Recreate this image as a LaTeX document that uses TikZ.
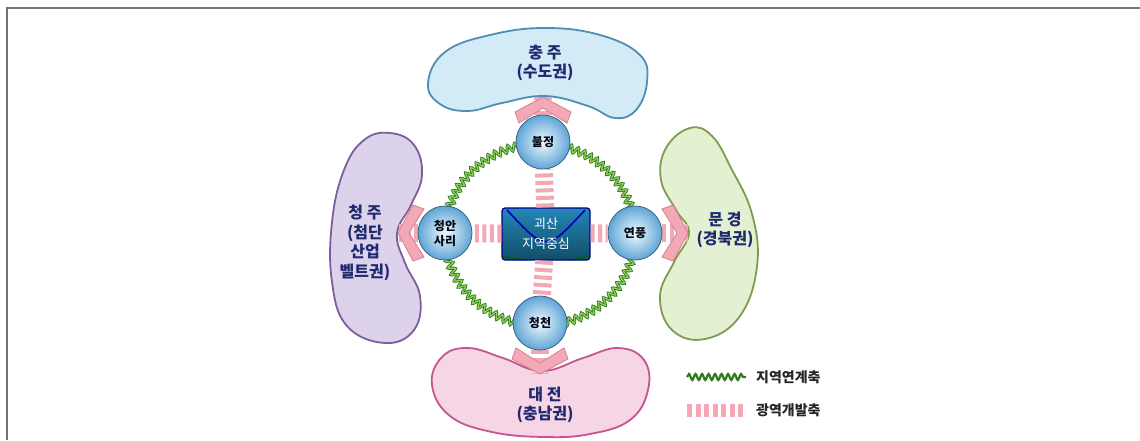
\documentclass[tikz,border=0pt]{standalone}
\usepackage{fontspec}
\newfontfamily\kr{Noto Sans CJK KR}
\usetikzlibrary{decorations.pathmorphing}
\definecolor{navy}{HTML}{1F2A6E}
\definecolor{topF}{HTML}{D3EAF7}\definecolor{topD}{HTML}{4F8FB3}
\definecolor{lefF}{HTML}{DDD2EB}\definecolor{lefD}{HTML}{7C5E9C}
\definecolor{rigF}{HTML}{E4F0D2}\definecolor{rigD}{HTML}{7E9C4E}
\definecolor{botF}{HTML}{F6D5E5}\definecolor{botD}{HTML}{C4558E}
\definecolor{pinkF}{HTML}{F3A9B5}\definecolor{pinkD}{HTML}{D77F92}
\definecolor{ringD}{HTML}{2E7A1E}\definecolor{ringL}{HTML}{8FD058}
\definecolor{globeI}{HTML}{F2FAFE}\definecolor{globeO}{HTML}{5FA5D6}
\definecolor{boxT}{HTML}{2486B8}\definecolor{boxB}{HTML}{114E68}
\tikzset{
  blobtxt/.style={font=\kr\bfseries\fontsize{16}{19.5}\selectfont, text=navy, align=center, inner sep=0},
  globe/.style={circle, minimum size=54, inner sep=0, draw=globeO!60!black, line width=0.8,
     inner color=globeI, outer color=globeO, font=\kr\bfseries\fontsize{12}{15}\selectfont, text=black!80!navy, align=center},
  hub/.style={rectangle, rounded corners=3, minimum width=88, minimum height=52, draw=blue!55!black, line width=1.2,
     top color=boxT, bottom color=boxB, text=white, font=\kr\fontsize{13}{20}\selectfont, align=center,
     path picture={\draw[blue!75!black, line width=1.6]
        ([xshift=5,yshift=-2]path picture bounding box.north west) .. controls ([yshift=-44]path picture bounding box.north) .. ([xshift=-5,yshift=-2]path picture bounding box.north east);
        \draw[green!40!black, line width=1.4]
        ([xshift=1,yshift=4]path picture bounding box.south west) .. controls ([yshift=-6]path picture bounding box.south) .. ([xshift=-1,yshift=4]path picture bounding box.south east);}},
  axisline/.style={draw=pinkF, line width=18, dash pattern=on 4 off 3.5},
  ringdark/.style={draw=ringD, line width=3, decorate, decoration={snake, amplitude=3.4, segment length=7}},
  ringlight/.style={draw=ringL, line width=1.3, decorate, decoration={snake, amplitude=3.4, segment length=7}},
  chevron/.pic={\filldraw[fill=pinkF, draw=pinkD, line width=0.8] (0,0) -- (-15,-28) -- (-26,-24) -- (-11,0) -- (-26,24) -- (-15,28) -- cycle;},
  legtxt/.style={font=\kr\bfseries\fontsize{14}{16}\selectfont, text=black!85, anchor=west, inner sep=0}
}
\begin{document}
\begin{tikzpicture}[x=1pt,y=-1pt]
\useasboundingbox (0,0) rectangle (1140,440);
% frame
\draw[black!55, line width=1.5] (7,440) -- (7,8) -- (1140,8);

% blobs
\filldraw[fill=topF, draw=topD, line width=1.8] plot[smooth cycle, tension=0.7] coordinates
 {(428,83) (445,52) (490,35) (545,28) (600,35) (640,55) (647,82) (636,110) (615,118) (588,106) (545,96) (502,103) (468,111) (440,104)};
\filldraw[fill=lefF, draw=lefD, line width=1.8] plot[smooth cycle, tension=0.7] coordinates
 {(390,133) (414,145) (422,175) (411,205) (397,233) (405,263) (420,296) (414,330) (385,343) (347,326) (332,282) (332,222) (344,170) (364,140)};
\filldraw[fill=rigF, draw=rigD, line width=1.8] plot[smooth cycle, tension=0.7] coordinates
 {(690,128) (666,148) (661,180) (676,210) (689,233) (674,262) (660,296) (672,330) (705,339) (740,316) (757,266) (752,214) (731,168) (712,136)};
\filldraw[fill=botF, draw=botD, line width=1.8] plot[smooth cycle, tension=0.7] coordinates
 {(432,385) (442,357) (468,348) (503,358) (542,371) (583,358) (618,348) (644,360) (648,390) (630,420) (590,434) (545,437) (492,432) (450,416)};

\node[blobtxt] (tTop) at (545,63) {충 주\\(수도권)};
\node[blobtxt] (tLeft) at (365,243) {청 주\\(첨단\\산업\\벨트권)};
\node[blobtxt] (tRight) at (725,230) {문 경\\(경북권)};
\node[blobtxt] (tBot) at (545,405) {대 전\\(충남권)};

% ring
\coordinate (rc) at (540,233);
\draw[ringdark] (rc) ellipse [x radius=95, y radius=91];
\draw[ringlight] (rc) ellipse [x radius=95, y radius=91];

% hub
\node[hub] (hub) at (546,234) {괴산\\지역중심};

% chevron tips
\coordinate (cT) at (543,97);
\coordinate (cL) at (398,233);
\coordinate (cR) at (688,233);
\coordinate (cB) at (540,374);
\coordinate (gTc) at (543,142);
\coordinate (gLc) at (445,233);
\coordinate (gRc) at (635,233);
\coordinate (gBc) at (540,323);

% pink axes
\draw[axisline, shorten <=27] (gTc) -- (cT);
\draw[axisline, shorten <=27] (gLc) -- (cL);
\draw[axisline, shorten <=27] (gRc) -- (cR);
\draw[axisline, shorten <=27] (gBc) -- (cB);
\pic[rotate=90] at (cT) {chevron};
\pic[rotate=180] at (cL) {chevron};
\pic at (cR) {chevron};
\pic[rotate=-90] at (cB) {chevron};

% globes
\node[globe] (gT) at (gTc) {불정};
\node[globe] (gL) at (gLc) {청안\\사리};
\node[globe] (gR) at (gRc) {연풍};
\node[globe] (gB) at (gBc) {청천};
\draw[axisline] (hub) -- (gT);
\draw[axisline] (hub) -- (gL);
\draw[axisline] (hub) -- (gR);
\draw[axisline] (hub) -- (gB);

% legend
\coordinate (l1a) at (687,377); \coordinate (l1b) at (746,377);
\coordinate (l2a) at (687,410); \coordinate (l2b) at (746,410);
\draw[draw=ringD, line width=2.2, decorate, decoration={snake, amplitude=3, segment length=6.5}] (l1a) -- (l1b);
\draw[draw=pinkF, line width=13, dash pattern=on 5 off 3.5] (l2a) -- (l2b);
\node[legtxt] (leg1) at (756,377) {지역연계축};
\node[legtxt] (leg2) at (756,410) {광역개발축};
\end{tikzpicture}
\end{document}
